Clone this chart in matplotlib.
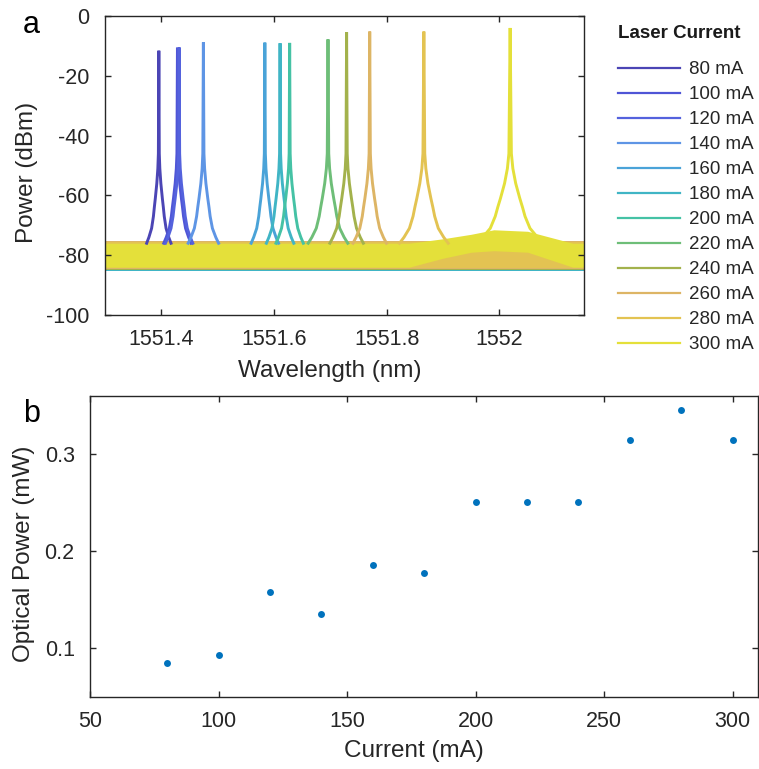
import numpy as np
import matplotlib
matplotlib.use("Agg")
import matplotlib.pyplot as plt

plt.rcParams['font.family'] = ['Liberation Sans', 'DejaVu Sans']
plt.rcParams['axes.unicode_minus'] = False

# ---- data: spectra (panel a) ----
currents = [80, 100, 120, 140, 160, 180, 200, 220, 240, 260, 280, 300]
labels = ["%d mA" % c for c in currents]
peak_wl = [1551.396, 1551.429, 1551.432, 1551.475, 1551.584, 1551.611,
           1551.628, 1551.696, 1551.729, 1551.770, 1551.866, 1552.019]
peak_dbm = [-11.6, -10.6, -10.5, -8.8, -8.9, -9.1, -9.0, -7.8, -5.4, -5.2, -5.2, -4.0]
# half width of each line at about -64 dBm (nm)
half_width = [0.008, 0.009, 0.009, 0.010, 0.009, 0.009, 0.009, 0.013, 0.011, 0.011, 0.016, 0.022]
# noise floor band of each trace (dBm)
floor_hi = [-76.5, -76.5, -76.5, -76.5, -76.5, -76.5, -76.5, -76.5, -76.0, -75.2, -75.6, -76.0]
floor_lo = [-85.4, -85.4, -85.3, -85.3, -85.2, -85.2, -85.0, -85.0, -84.8, -84.6, -84.4, -84.0]
colors = ['#4b45b5', '#4f55d6', '#5462dd', '#5e95e5', '#4aa3d8', '#40b5c5',
          '#45c2a5', '#6ebe78', '#a3b24c', '#ddb565', '#e3c352', '#e4e03a']

# line shape: level (dBm) vs offset in units of half_width
shape_dbm = [-76, -74, -71, -67, -64, -61, -56, -51, -46]
shape_off = [2.7, 2.2, 1.6, 1.2, 1.0, 0.78, 0.45, 0.22, 0.1]

# broad pedestal under the 300 mA line
hump_wl = [1551.84, 1551.90, 1551.95, 1551.99, 1552.05, 1552.09, 1552.13]
hump_hi = [-76.0, -74.5, -73.0, -71.5, -72.0, -74.0, -76.0]
hump_lo = [-84.0, -81.0, -79.0, -78.5, -79.0, -81.5, -84.0]

# ---- data: optical power (panel b) ----
current_ma = [80, 100, 120, 140, 160, 180, 200, 220, 240, 260, 280, 300]
power_mw = [0.085, 0.093, 0.158, 0.135, 0.186, 0.178, 0.251, 0.251, 0.251, 0.315, 0.346, 0.315]

W, H = 759, 769
fig = plt.figure(figsize=(W / 100, H / 100), dpi=100)
ax1 = fig.add_axes([104.7 / W, 1 - 315 / H, (584 - 104.7) / W, (315 - 16) / H])
ax2 = fig.add_axes([90 / W, 1 - 696.7 / H, (758.3 - 90) / W, (696.7 - 396) / H])

xmin, xmax = 1551.3, 1552.15
handles = []
for i in range(len(currents)):
    c, p, w, col = peak_wl[i], peak_dbm[i], half_width[i], colors[i]
    if currents[i] == 300:
        xs = [xmin] + hump_wl + [xmax]
        ax1.fill_between(xs, [-84.0] + hump_lo + [-84.0],
                         [floor_hi[i]] + hump_hi + [floor_hi[i]], color=col, lw=0)
    else:
        ax1.fill_between([xmin, xmax], floor_lo[i], floor_hi[i], color=col, lw=0)
    left = [c - o * w for o in shape_off]
    right = [c + o * w for o in shape_off[::-1]]
    px = left + [c] + right
    py = shape_dbm + [p] + shape_dbm[::-1]
    ln, = ax1.plot(px, py, color=col, lw=2.1, solid_joinstyle='miter', label=labels[i])
    handles.append(ln)

ax1.set_xlim(xmin, xmax)
ax1.set_ylim(-100, 0)
ax1.set_xticks([1551.4, 1551.6, 1551.8, 1552])
ax1.set_xticklabels(['1551.4', '1551.6', '1551.8', '1552'])
ax1.set_yticks([-100, -80, -60, -40, -20, 0])
ax1.set_xlabel('Wavelength (nm)', fontsize=17.5, color='#262626')
ax1.set_ylabel('Power (dBm)', fontsize=17.5, color='#262626')
ax1.xaxis.set_label_coords(0.469, -0.15)
ax1.yaxis.set_label_coords(-0.140, 0.478)

ax2.plot(current_ma, power_mw, 'o', color='#0072bd', ms=5, mew=0)
ax2.set_xlim(50, 310)
ax2.set_ylim(0.05, 0.36)
ax2.set_xticks([50, 100, 150, 200, 250, 300])
ax2.set_yticks([0.1, 0.2, 0.3])
ax2.set_xlabel('Current (mA)', fontsize=17.5, color='#262626')
ax2.set_ylabel('Optical Power (mW)', fontsize=17.5, color='#262626')
ax2.xaxis.set_label_coords(0.485, -0.145)
ax2.yaxis.set_label_coords(-0.0816, 0.475)

for ax in (ax1, ax2):
    ax.tick_params(direction='in', length=4.5, width=1, top=True, right=True,
                   labelsize=15.5, labelcolor='#262626', color='#262626')
    ax.tick_params(axis='x', pad=10)
    ax.tick_params(axis='y', pad=11)
    for s in ax.spines.values():
        s.set_linewidth(1.0)
        s.set_color('#262626')

leg = fig.legend(handles, labels, loc='center left', bbox_to_anchor=(617.5 / W, 1 - 207 / H),
                 frameon=False, fontsize=13.5, handlelength=3.35, handletextpad=0.45,
                 labelspacing=0.42, borderpad=0, borderaxespad=0)
for t in leg.get_texts():
    t.set_color('#262626')
for l in leg.get_lines():
    l.set_linewidth(1.6)
fig.text(618 / W, 1 - 34 / H, 'Laser Current', fontsize=13.5, fontweight='bold',
         ha='left', va='center', color='#1a1a1a')

fig.text(23 / W, 1 - 33 / H, 'a', fontsize=22, va='baseline', ha='left')
fig.text(23 / W, 1 - 422 / H, 'b', fontsize=22, va='baseline', ha='left')

fig.savefig('out.png', dpi=100)
